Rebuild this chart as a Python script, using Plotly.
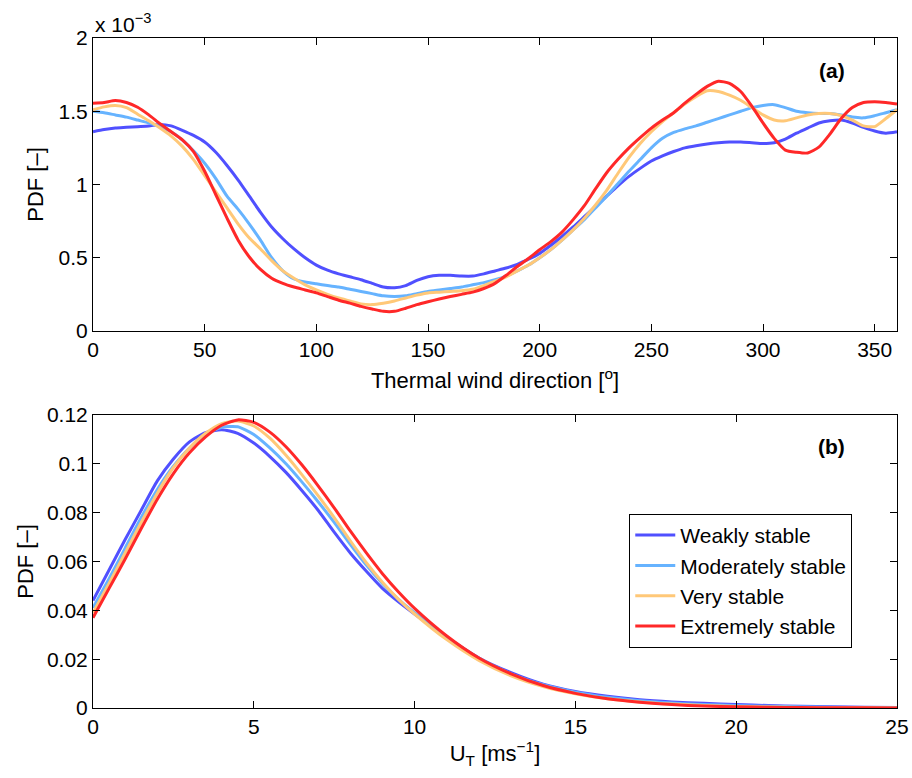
import plotly.graph_objects as go
from plotly.subplots import make_subplots

# ---------------- data ----------------
series_names = ["Weakly stable", "Moderately stable", "Very stable", "Extremely stable"]
series_colors = ["#5050FF", "#66B3FF", "#FFC878", "#FF2828"]

# (a) thermal wind direction [deg], PDF in units of 1e-3
direction = list(range(0, 361, 5))
pdf_dir_weak = [1.36, 1.375, 1.385, 1.39, 1.395, 1.40, 1.41, 1.40, 1.37, 1.335,
                1.29, 1.22, 1.13, 1.03, 0.92, 0.81, 0.71, 0.63, 0.56, 0.50,
                0.45, 0.415, 0.39, 0.37, 0.35, 0.325, 0.30, 0.295, 0.31, 0.345,
                0.37, 0.38, 0.38, 0.375, 0.375, 0.39, 0.41, 0.43, 0.455, 0.49,
                0.53, 0.585, 0.645, 0.71, 0.78, 0.85, 0.92, 0.99, 1.055, 1.11,
                1.16, 1.195, 1.225, 1.25, 1.265, 1.277, 1.285, 1.29, 1.29, 1.285,
                1.28, 1.285, 1.31, 1.35, 1.385, 1.42, 1.435, 1.44, 1.42, 1.39,
                1.365, 1.35, 1.36]
pdf_dir_moderate = [1.50, 1.49, 1.475, 1.46, 1.44, 1.42, 1.395, 1.36, 1.305, 1.23,
                    1.145, 1.04, 0.92, 0.83, 0.73, 0.62, 0.50, 0.41, 0.355, 0.335,
                    0.322, 0.31, 0.30, 0.285, 0.27, 0.255, 0.24, 0.235, 0.24, 0.255,
                    0.27, 0.28, 0.29, 0.30, 0.315, 0.33, 0.35, 0.375, 0.41, 0.45,
                    0.50, 0.555, 0.62, 0.69, 0.76, 0.84, 0.92, 1.005, 1.09, 1.17,
                    1.25, 1.315, 1.355, 1.38, 1.40, 1.425, 1.45, 1.475, 1.50, 1.525,
                    1.54, 1.545, 1.525, 1.50, 1.49, 1.485, 1.485, 1.475, 1.46, 1.455,
                    1.47, 1.49, 1.51]
pdf_dir_very = [1.51, 1.53, 1.54, 1.525, 1.48, 1.435, 1.385, 1.33, 1.26, 1.17,
                1.06, 0.95, 0.84, 0.73, 0.635, 0.56, 0.48, 0.41, 0.36, 0.315,
                0.28, 0.25, 0.225, 0.205, 0.185, 0.18, 0.19, 0.205, 0.225, 0.245,
                0.26, 0.265, 0.27, 0.275, 0.285, 0.31, 0.34, 0.37, 0.41, 0.45,
                0.50, 0.555, 0.62, 0.69, 0.77, 0.86, 0.96, 1.075, 1.185, 1.28,
                1.36, 1.43, 1.49, 1.55, 1.60, 1.64, 1.635, 1.61, 1.575, 1.525,
                1.475, 1.44, 1.435, 1.455, 1.475, 1.485, 1.485, 1.47, 1.44, 1.40,
                1.395, 1.45, 1.51]
pdf_dir_extreme = [1.555, 1.56, 1.573, 1.56, 1.527, 1.475, 1.415, 1.36, 1.305, 1.225,
                   1.09, 0.93, 0.77, 0.62, 0.505, 0.42, 0.36, 0.325, 0.30, 0.28,
                   0.26, 0.235, 0.21, 0.19, 0.168, 0.15, 0.134, 0.134, 0.155, 0.18,
                   0.20, 0.218, 0.235, 0.25, 0.265, 0.29, 0.325, 0.38, 0.44, 0.495,
                   0.555, 0.61, 0.675, 0.76, 0.855, 0.97, 1.08, 1.17, 1.25, 1.32,
                   1.385, 1.44, 1.49, 1.555, 1.615, 1.67, 1.705, 1.69, 1.635, 1.535,
                   1.42, 1.315, 1.235, 1.22, 1.215, 1.255, 1.345, 1.45, 1.525, 1.56,
                   1.565, 1.56, 1.55]

# (b) thermal wind speed U_T [m/s]
speed = [0, 0.5, 1, 1.5, 2, 2.5, 3, 3.5, 4, 4.5, 5, 5.5, 6, 6.5, 7, 7.5, 8, 8.5, 9, 9.5,
         10, 11, 12, 13, 14, 15, 16, 17, 18, 19, 20, 21, 22, 23, 24, 25]
pdf_spd_weak = [0.044, 0.0565, 0.069, 0.081, 0.093, 0.102, 0.109, 0.1128, 0.114, 0.1125,
                0.1085, 0.103, 0.0965, 0.089, 0.081, 0.072, 0.0635, 0.056, 0.049, 0.0435,
                0.0385, 0.029, 0.0205, 0.0145, 0.0098, 0.0068, 0.0048, 0.0034, 0.0025, 0.0019,
                0.0014, 0.0010, 0.0007, 0.0005, 0.0003, 0.0002]
pdf_spd_moderate = [0.041, 0.053, 0.0655, 0.078, 0.0895, 0.099, 0.1065, 0.112, 0.115, 0.1152,
                    0.112, 0.1065, 0.100, 0.0925, 0.0845, 0.076, 0.067, 0.0585, 0.051, 0.0445,
                    0.039, 0.029, 0.0205, 0.014, 0.0095, 0.0065, 0.0044, 0.003, 0.002, 0.0014,
                    0.001, 0.0007, 0.0005, 0.0003, 0.0002, 0.0001]
pdf_spd_very = [0.039, 0.051, 0.0635, 0.076, 0.088, 0.0985, 0.1065, 0.1125, 0.1165, 0.1175,
                0.1155, 0.1105, 0.1035, 0.0955, 0.087, 0.078, 0.0685, 0.0595, 0.0515, 0.0445,
                0.0385, 0.028, 0.0195, 0.0132, 0.0088, 0.0058, 0.0038, 0.0025, 0.0016, 0.001,
                0.0006, 0.0004, 0.0002, 0.0001, 0.0001, 0.0]
pdf_spd_extreme = [0.037, 0.049, 0.061, 0.0735, 0.0855, 0.096, 0.1045, 0.111, 0.1158, 0.118,
                   0.117, 0.113, 0.107, 0.0995, 0.091, 0.082, 0.0725, 0.0635, 0.055, 0.0475,
                   0.0408, 0.0295, 0.0205, 0.014, 0.0092, 0.006, 0.0038, 0.0024, 0.0014, 0.0008,
                   0.0005, 0.0003, 0.0002, 0.0001, 0.0001, 0.0]

dir_ticks = [0, 50, 100, 150, 200, 250, 300, 350]
dir_yticks = [0, 0.5, 1, 1.5, 2]
dir_yticktext = ["0", "0.5", "1", "1.5", "2"]
spd_ticks = [0, 5, 10, 15, 20, 25]
spd_yticks = [0, 0.02, 0.04, 0.06, 0.08, 0.1, 0.12]
spd_yticktext = ["0", "0.02", "0.04", "0.06", "0.08", "0.1", "0.12"]

# ---------------- figure ----------------
FONT = "Liberation Sans, Arial, sans-serif"
TICK = 21
LABEL = 22
fig = make_subplots(rows=2, cols=1, vertical_spacing=0.1254)

dir_series = [pdf_dir_weak, pdf_dir_moderate, pdf_dir_very, pdf_dir_extreme]
spd_series = [pdf_spd_weak, pdf_spd_moderate, pdf_spd_very, pdf_spd_extreme]
for name, col, yd in zip(series_names, series_colors, dir_series):
    fig.add_trace(go.Scatter(x=direction, y=yd, mode="lines", name=name,
                             line=dict(color=col, width=3, shape="spline", smoothing=0.6),
                             showlegend=False), row=1, col=1)
for name, col, ys in zip(series_names, series_colors, spd_series):
    fig.add_trace(go.Scatter(x=speed, y=ys, mode="lines", name=name,
                             line=dict(color=col, width=3, shape="spline", smoothing=0.6),
                             showlegend=True), row=2, col=1)

axis_common = dict(showline=True, linecolor="black", linewidth=1, mirror="ticks",
                   ticks="inside", ticklen=7, tickcolor="black", tickwidth=1,
                   showgrid=False, zeroline=False, automargin=False,
                   tickfont=dict(family=FONT, size=TICK, color="black"))
title_font = dict(family=FONT, size=LABEL, color="black")

fig.update_xaxes(range=[0, 360], tickvals=dir_ticks, row=1, col=1,
                 title=dict(text="Thermal wind direction [<sup>o</sup>]",
                            font=title_font, standoff=12),
                 **axis_common)
fig.update_yaxes(range=[0, 2], tickvals=dir_yticks, ticktext=dir_yticktext, row=1, col=1,
                 title=dict(text="PDF [\u2013]", font=title_font, standoff=8),
                 **axis_common)
fig.update_xaxes(range=[0, 25], tickvals=spd_ticks, row=2, col=1,
                 title=dict(text="U<sub>T</sub> [ms<sup>\u22121</sup>]",
                            font=title_font, standoff=8),
                 **axis_common)
fig.update_yaxes(range=[0, 0.12], tickvals=spd_yticks, ticktext=spd_yticktext, row=2, col=1,
                 title=dict(text="PDF [\u2013]", font=title_font, standoff=7),
                 **axis_common)

fig.update_layout(
    width=912, height=778,
    margin=dict(l=93, r=15, t=38, b=70, autoexpand=False),
    paper_bgcolor="white", plot_bgcolor="white",
    font=dict(family=FONT, size=TICK, color="black"),
    legend=dict(x=0.667, y=0.2896, xanchor="left", yanchor="top",
                bordercolor="black", borderwidth=1, bgcolor="white",
                font=dict(family=FONT, size=21, color="black"),
                tracegroupgap=0, itemwidth=40),
    annotations=[
        dict(text="x 10<sup>\u22123</sup>", xref="x domain", yref="y domain", x=0, y=1,
             xanchor="left", yanchor="bottom", yshift=0, showarrow=False,
             font=dict(family=FONT, size=TICK, color="black")),
        dict(text="<b>(a)</b>", xref="x domain", yref="y domain", x=0.919, y=0.89,
             xanchor="center", yanchor="middle", showarrow=False,
             font=dict(family=FONT, size=21, color="black")),
        dict(text="<b>(b)</b>", xref="x2 domain", yref="y2 domain", x=0.919, y=0.894,
             xanchor="center", yanchor="middle", showarrow=False,
             font=dict(family=FONT, size=21, color="black")),
    ],
)

fig.write_html("out.html")
